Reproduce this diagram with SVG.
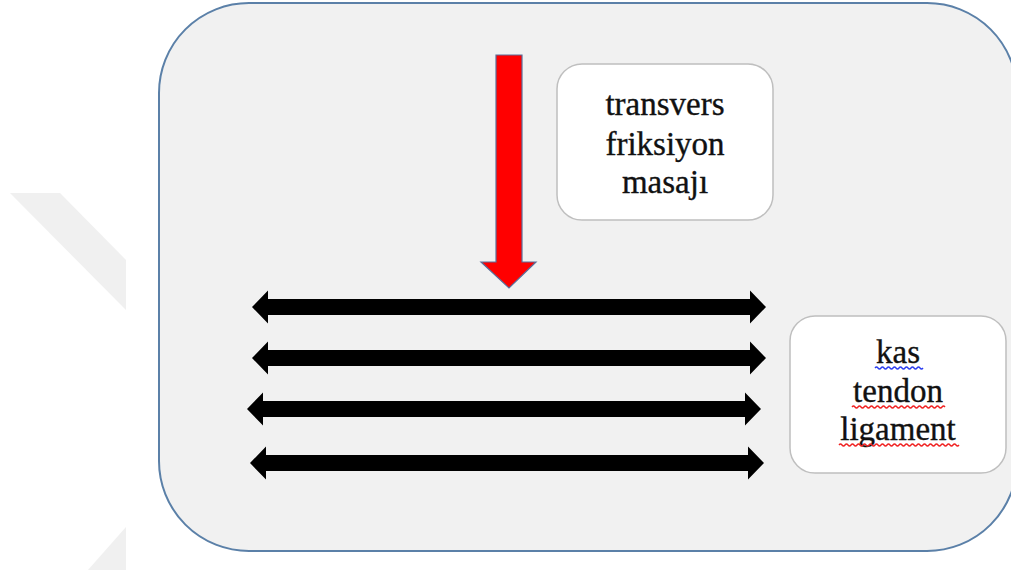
<svg xmlns="http://www.w3.org/2000/svg" width="1011" height="570" viewBox="0 0 1011 570">
  <style>
    .box { fill: #ffffff; stroke: #bfbfbf; stroke-width: 1.5; }
    .fibre { fill: #000000; }
    .squiggle { fill: none; stroke-width: 1.3; }
  </style>
  <defs>
    <!-- double-headed fibre arrow, drawn from x=0 to x=514 around y=0 -->
    <path id="dbl" d="M0 0 L16 -16.5 L16 -8 L498 -8 L498 -16.5 L514 0 L498 16.5 L498 8 L16 8 L16 16.5 Z"/>
  </defs>

  <!-- faint background chevron -->
  <g fill="#f0f0f0">
    <polygon points="10,193 60,193 126,260 126,310"/>
    <polygon points="126,527 126,570 88,570"/>
  </g>

  <!-- outer panel -->
  <g id="panel">
    <rect x="159" y="3" width="858" height="548" rx="90" ry="90" fill="#f1f1f1" stroke="#5b80a8" stroke-width="2"/>
  </g>

  <!-- red pressure arrow -->
  <g id="pressure">
    <path d="M496 55 L522 55 L522 262 L536 262 L509 288 L481 262 L496 262 Z" fill="#ff0000" stroke="#5a6f9a" stroke-width="1.2"/>
  </g>

  <!-- tissue fibres -->
  <g id="connectors" class="fibre">
    <use href="#dbl" x="252" y="307"/>
    <use href="#dbl" x="252" y="358"/>
    <use href="#dbl" x="247" y="409"/>
    <use href="#dbl" x="250" y="463"/>
  </g>

  <!-- technique label -->
  <g id="technique">
    <rect class="box" x="557" y="64" width="216" height="156" rx="25" ry="25"/>
    <g font-family="Liberation Serif, serif" font-size="33" fill="#111" stroke="#111" stroke-width="0.35" text-anchor="middle">
      <text x="665" y="115">transvers</text>
      <text x="665" y="155">friksiyon</text>
      <text x="665" y="193">masajı</text>
    </g>
  </g>

  <!-- tissue label -->
  <g id="tissue">
    <rect class="box" x="790" y="316" width="216" height="157" rx="25" ry="25"/>
    <g font-family="Liberation Serif, serif" font-size="33" fill="#111" stroke="#111" stroke-width="0.35" text-anchor="middle">
      <text x="898" y="363">kas</text>
      <text x="898" y="402">tendon</text>
      <text x="898" y="440">ligament</text>
    </g>
    <path class="squiggle" stroke="#2a3cf0" d="M875 368 q1.5 -2 3 0 t3 0 t3 0 t3 0 t3 0 t3 0 t3 0 t3 0 t3 0 t3 0 t3 0 t3 0 t3 0 t3 0 t3 0 t3 0"/>
    <path class="squiggle" stroke="#f02020" d="M852 407 q1.5 -2 3 0 t3 0 t3 0 t3 0 t3 0 t3 0 t3 0 t3 0 t3 0 t3 0 t3 0 t3 0 t3 0 t3 0 t3 0 t3 0 t3 0 t3 0 t3 0 t3 0 t3 0 t3 0 t3 0 t3 0 t3 0 t3 0 t3 0 t3 0 t3 0 t3 0 t3 0"/>
    <path class="squiggle" stroke="#f02020" d="M839 445 q1.5 -2 3 0 t3 0 t3 0 t3 0 t3 0 t3 0 t3 0 t3 0 t3 0 t3 0 t3 0 t3 0 t3 0 t3 0 t3 0 t3 0 t3 0 t3 0 t3 0 t3 0 t3 0 t3 0 t3 0 t3 0 t3 0 t3 0 t3 0 t3 0 t3 0 t3 0 t3 0 t3 0 t3 0 t3 0 t3 0 t3 0 t3 0 t3 0 t3 0 t3 0"/>
  </g>
</svg>
